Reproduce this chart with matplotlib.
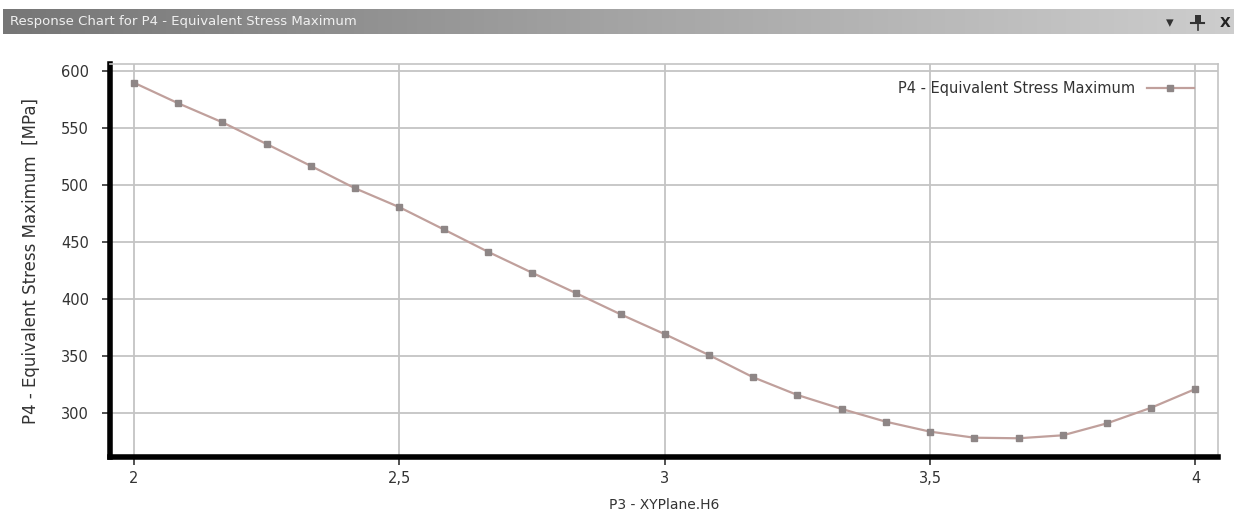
import numpy as np
import matplotlib.pyplot as plt
from matplotlib.patches import Rectangle
from matplotlib.lines import Line2D

# Datos (P3 - XYPlane.H6 vs tensión equivalente máxima)
h6 = [2.0, 2.0833, 2.1667, 2.25, 2.3333, 2.4167, 2.5, 2.5833, 2.6667, 2.75,
      2.8333, 2.9167, 3.0, 3.0833, 3.1667, 3.25, 3.3333, 3.4167, 3.5, 3.5833,
      3.6667, 3.75, 3.8333, 3.9167, 4.0]
stress = [589.5, 571.5, 554.8, 535.8, 516.6, 497.0, 480.5, 461.1, 441.5, 423.1,
          405.1, 386.7, 369.3, 351.0, 331.5, 316.0, 303.8, 292.6, 283.9, 278.6,
          278.1, 280.7, 291.2, 304.9, 321.3]
xticks = [2, 2.5, 3, 3.5, 4]
xtick_labels = ['2', '2,5', '3', '3,5', '4']
yticks = [300, 350, 400, 450, 500, 550, 600]

fig = plt.figure(figsize=(12.34, 5.15), dpi=100)

# Barra de título de la ventana (degradado gris)
bar = fig.add_axes([3 / 1234, 1 - 34 / 515, 1231 / 1234, 25 / 515])
grad = np.linspace(0, 1, 256)[None, :]
bar.imshow(grad, aspect='auto', cmap=plt.matplotlib.colors.LinearSegmentedColormap.from_list(
    'g', ['#767676', '#a4a4a4', '#cdcdcd']), extent=[0, 1, 0, 1])
bar.set_xlim(0, 1)
bar.set_ylim(0, 1)
bar.axis('off')
bar.text(0.006, 0.5, 'Response Chart for P4 - Equivalent Stress Maximum',
         color='#f0f0f0', fontsize=9.5, va='center', ha='left')
bar.text(0.948, 0.45, '▾', color='#333333', fontsize=11, va='center', ha='center')
bar.add_patch(Rectangle((0.968, 0.45), 0.005, 0.3, facecolor='#333333'))
bar.add_line(Line2D([0.965, 0.976], [0.45, 0.45], color='#333333', lw=1.5))
bar.add_line(Line2D([0.9705, 0.9705], [0.15, 0.45], color='#333333', lw=1.2))
bar.text(0.993, 0.45, 'X', color='#222222', fontsize=10, va='center', ha='center',
         fontweight='bold')

ax = fig.add_axes([110 / 1234, 1 - 457 / 515, 1108 / 1234, 393 / 515])
ax.plot(h6, stress, color='#c0a09c', lw=1.6, marker='s', markersize=4.5,
        markerfacecolor='#8e8686', markeredgecolor='#8e8686',
        label='P4 - Equivalent Stress Maximum')

ax.set_xlim(1.9548, 4.0424)
ax.set_ylim(261.7, 605.9)
ax.set_xticks(xticks)
ax.set_xticklabels(xtick_labels)
ax.set_yticks(yticks)
ax.grid(True, color='#c4c4c4', lw=1.3)
ax.set_axisbelow(True)

for s in ['left', 'bottom']:
    ax.spines[s].set_linewidth(4)
    ax.spines[s].set_color('black')
for s in ['top', 'right']:
    ax.spines[s].set_linewidth(1.2)
    ax.spines[s].set_color('#c4c4c4')

ax.tick_params(axis='both', colors='#333333', labelsize=10.5, length=6, width=1.2,
               direction='out', top=False, right=False)
ax.tick_params(axis='x', pad=4)
ax.tick_params(axis='y', pad=9)

ax.set_xlabel('P3 - XYPlane.H6', fontsize=10, color='#333333')
ax.xaxis.set_label_coords(0.5, -0.105)
ax.set_ylabel('P4 - Equivalent Stress Maximum  [MPa]', fontsize=12, color='#333333')
ax.yaxis.set_label_coords(-0.063, 0.5)

leg = ax.legend(loc='upper right', frameon=False, fontsize=10.5, markerfirst=False,
                handlelength=3.2, bbox_to_anchor=(0.99, 0.99), labelcolor='#333333')

plt.savefig('out.png', dpi=100)
